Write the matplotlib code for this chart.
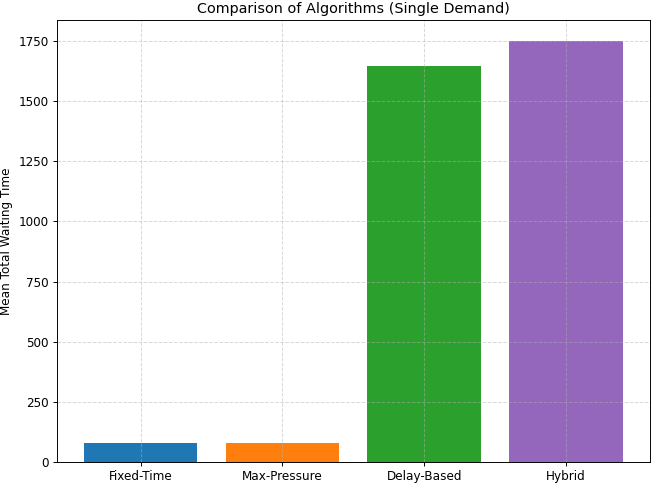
import matplotlib
matplotlib.use("Agg")
import matplotlib.pyplot as plt

algorithms = ["Fixed-Time", "Max-Pressure", "Delay-Based", "Hybrid"]
mean_waiting = [79, 79, 1648, 1750]
colors = ["#1f77b4", "#ff7f0e", "#2ca02c", "#9467bd"]

dpi = 86
fig, ax = plt.subplots(figsize=(653 / dpi, 483 / dpi), dpi=dpi)
ax.bar(algorithms, mean_waiting, color=colors)
ax.set_title("Comparison of Algorithms (Single Demand)")
ax.set_ylabel("Mean Total Waiting Time")
ax.grid(True, linestyle="--", alpha=0.5)
fig.subplots_adjust(left=0.087, right=0.995, top=0.958, bottom=0.044)
fig.savefig("out.png", dpi=dpi)
